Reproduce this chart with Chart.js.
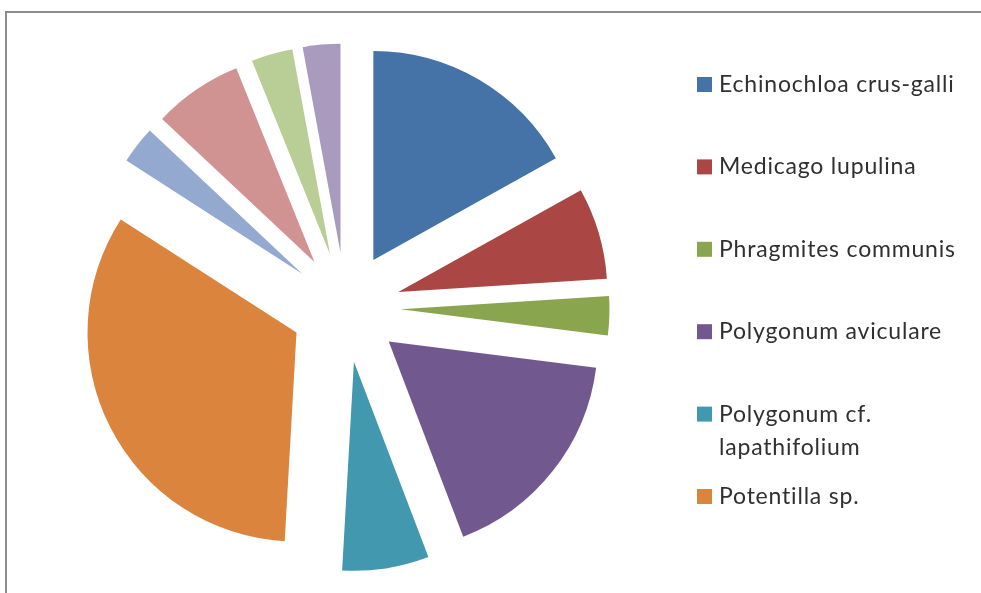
<!DOCTYPE html>
<html>
<head>
<meta charset="utf-8">
<script src="https://cdn.jsdelivr.net/npm/chart.js@4/dist/chart.umd.min.js"></script>
<style>
  html, body { margin: 0; padding: 0; background: #fff; }
  #wrap { position: relative; width: 981px; height: 593px; overflow: hidden; }
  #frame {
    position: absolute; left: 5px; top: 11px; right: -10px; bottom: -10px;
    border-top: 2px solid #8c8c8c; border-left: 2px solid #8c8c8c;
  }
  #chart { position: absolute; left: 0; top: 0; }
</style>
</head>
<body>
<div id="wrap">
  <div id="frame"></div>
  <canvas id="chart" width="981" height="593"></canvas>
</div>
<script>
// ── Data ─────────────────────────────────────────────────────────────────────

const SPECIES = [
    "Echinochloa crus-galli",
    "Medicago lupulina",
    "Phragmites communis",
    "Polygonum aviculare",
    ["Polygonum cf.", "lapathifolium"],
    "Potentilla sp.",
    "Species 7",
    "Species 8",
    "Species 9",
    "Species 10",
];

// share of each species in %
const SHARES = [16.9, 7.1, 3.0, 17.2, 6.7, 33.2, 2.9, 6.9, 3.2, 2.9];

// only the first six entries fit in the legend box of the original
const LEGEND_SHOWN = 6;

const SLICE_COLORS = [
    "#4572a7", "#aa4643", "#89a54e", "#71588f", "#4198af",
    "#db843d", "#93a9cf", "#d19392", "#b9cd96", "#a99bbd",
];

// ── Layout ───────────────────────────────────────────────────────────────────

const PIE_RADIUS = 209;
const EXPLODE = 55;          // px every slice is pulled out from the centre

// Chart.js' own arc offset also grows and narrows small slices; instead push
// each arc out along its bisector so every slice keeps its angle and radius
const explodePlugin = {
    id: "explode",
    beforeDatasetsDraw(chart) {
        const ca = chart.chartArea;
        const cx = (ca.left + ca.right) / 2;
        const cy = (ca.top + ca.bottom) / 2;
        for (const arc of chart.getDatasetMeta(0).data) {
            const mid = (arc.startAngle + arc.endAngle) / 2;
            arc.x = cx + Math.cos(mid) * EXPLODE;
            arc.y = cy + Math.sin(mid) * EXPLODE;
        }
    },
};

const sideLegendPlugin = {
    id: "sideLegend",
    afterDraw(chart, args, opts) {
        const ctx = chart.ctx;
        ctx.save();
        ctx.font = opts.font;
        if ("letterSpacing" in ctx) ctx.letterSpacing = opts.letterSpacing;
        ctx.textBaseline = "alphabetic";
        let y = opts.top;
        for (let i = 0; i < LEGEND_SHOWN; i++) {
            const lines = Array.isArray(SPECIES[i]) ? SPECIES[i] : [SPECIES[i]];
            ctx.fillStyle = SLICE_COLORS[i];
            ctx.fillRect(opts.x, y - opts.box, opts.box, opts.box);
            ctx.fillStyle = opts.color;
            lines.forEach((line, k) => {
                ctx.fillText(line, opts.x + opts.box + opts.gap, y + k * opts.lineHeight);
            });
            y += opts.step;
        }
        ctx.restore();
    },
};

new Chart(document.getElementById("chart"), {
    type: "pie",
    data: {
        labels: SPECIES,
        datasets: [{
            data: SHARES,
            backgroundColor: SLICE_COLORS,
            borderWidth: 0,
            radius: PIE_RADIUS,
        }],
    },
    options: {
        responsive: false,
        animation: false,
        events: [],
        layout: { padding: { left: 0, right: 290, top: 22, bottom: 0 } },
        plugins: {
            legend: { display: false },
            tooltip: { enabled: false },
            sideLegend: {
                x: 697,
                top: 92,
                box: 15,
                gap: 7,
                step: 82.4,
                lineHeight: 33,
                font: "23px Lato",
                letterSpacing: "0.8px",
                color: "#303030",
            },
        },
    },
    plugins: [explodePlugin, sideLegendPlugin],
});
</script>
</body>
</html>
